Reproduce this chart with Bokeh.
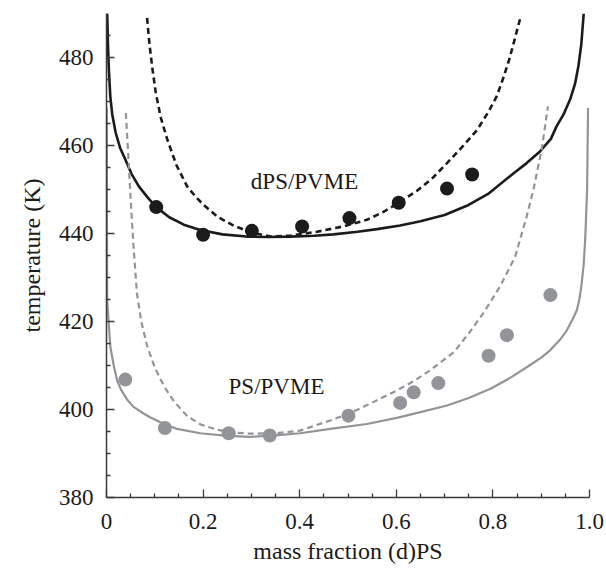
from bokeh.plotting import figure
from bokeh.models import Range1d, FixedTicker, Label
from bokeh.embed import file_html
from bokeh.resources import INLINE

# ---- data ----
# dPS/PVME binodal (solid black)
dps_bin_x = [0.0015, 0.003, 0.005, 0.008, 0.012, 0.019, 0.028, 0.039, 0.052, 0.067, 0.085, 0.103,
             0.13, 0.16, 0.194, 0.24, 0.29, 0.332, 0.38, 0.43, 0.47, 0.52, 0.56, 0.608, 0.65,
             0.70, 0.746, 0.79, 0.843, 0.87, 0.898, 0.92, 0.932, 0.946, 0.96, 0.97, 0.977, 0.983, 0.988]
dps_bin_t = [490, 483, 477, 471, 467, 462.9, 459.5, 456.8, 453.5, 450.7, 448.2, 446.0,
             443.7, 442.0, 440.8, 439.8, 439.3, 439.2, 439.3, 439.5, 439.8, 440.4, 441.0, 441.8, 442.8,
             444.2, 446.3, 449.0, 453.7, 456.0, 458.7, 461.5, 464.4, 467.0, 470.5, 474.0, 478.0, 483.0, 490]
# dPS/PVME spinodal (dashed black)
dps_spi_x = [0.084, 0.089, 0.095, 0.102, 0.112, 0.126, 0.145, 0.167, 0.185, 0.201, 0.23, 0.263, 0.30,
             0.34, 0.38, 0.436, 0.49, 0.539, 0.575, 0.605, 0.643, 0.675, 0.705, 0.735, 0.767, 0.79,
             0.808, 0.822, 0.834, 0.846, 0.857]
dps_spi_t = [489, 483, 477.5, 472, 466.5, 461.3, 455.5, 450.7, 448.3, 446.5, 443.8, 441.8, 440.2,
             439.3, 439.5, 440.4, 441.6, 443.1, 445.0, 447.0, 449.7, 452.6, 456.0, 459.5, 463.5, 467.5,
             471.2, 475.5, 479.6, 484.5, 489.1]
# PS/PVME binodal (solid grey)
ps_bin_x = [0.0005, 0.0008, 0.001, 0.0014, 0.008, 0.015, 0.022, 0.03, 0.043, 0.056, 0.075, 0.091,
            0.121, 0.146, 0.194, 0.25, 0.298, 0.35, 0.401, 0.463, 0.539, 0.601, 0.65, 0.705, 0.75,
            0.795, 0.83, 0.87, 0.90, 0.919, 0.94, 0.953, 0.965, 0.974, 0.979, 0.983, 0.988, 0.991,
            0.993, 0.995, 0.996, 0.997]
ps_bin_t = [468.5, 455, 440, 424.8, 414.2, 410.0, 406.6, 404.5, 402.2, 400.6, 399.2, 398.2,
            396.6, 395.6, 394.6, 394.0, 393.8, 394.1, 394.6, 395.6, 396.7, 398.1, 399.4, 400.9, 402.6,
            404.7, 406.8, 409.6, 411.8, 413.5, 416.0, 418.0, 420.5, 422.6, 425.0, 427.9, 433.0, 438.5,
            444.0, 450.0, 459.0, 468.5]
# PS/PVME spinodal (dashed grey)
ps_spi_x = [0.040, 0.045, 0.050, 0.056, 0.063, 0.072, 0.084, 0.10, 0.119, 0.14, 0.167, 0.195, 0.229,
            0.26, 0.298, 0.35, 0.401, 0.463, 0.505, 0.532, 0.601, 0.637, 0.670, 0.719, 0.75, 0.781,
            0.815, 0.846, 0.870, 0.884, 0.901, 0.914]
ps_spi_t = [467.4, 458.0, 447.7, 437.0, 426.4, 420.0, 414.5, 409.5, 405.3, 401.8, 398.5, 396.6, 395.4,
            394.8, 394.5, 394.6, 395.2, 397.5, 399.2, 400.6, 404.3, 406.5, 408.9, 413.0, 417.3, 422.0,
            428.0, 434.7, 443.9, 450.0, 459.1, 468.9]
# measured points
dps_pts_x = [0.103, 0.20, 0.301, 0.405, 0.503, 0.605, 0.705, 0.757]
dps_pts_t = [446.0, 439.7, 440.6, 441.6, 443.5, 447.0, 450.2, 453.4]
ps_pts_x = [0.039, 0.121, 0.253, 0.338, 0.501, 0.608, 0.636, 0.687, 0.791, 0.829, 0.919]
ps_pts_t = [406.8, 395.8, 394.6, 394.1, 398.6, 401.5, 403.9, 406.0, 412.2, 416.9, 426.0]

x_ticks = [0, 0.2, 0.4, 0.6, 0.8, 1.0]
x_tick_labels = ["0", "0.2", "0.4", "0.6", "0.8", "1.0"]
y_ticks = [380, 400, 420, 440, 460, 480]

FONT = "Liberation Serif"
BLACK = "#1c1a1a"
GREY = "#929497"

p = figure(frame_width=483, frame_height=484, output_backend="svg", toolbar_location=None,
           x_range=Range1d(0, 1.0), y_range=Range1d(380, 490),
           min_border_left=106, min_border_right=16, min_border_top=13, min_border_bottom=70)
p.outline_line_color = None
p.xgrid.visible = False
p.ygrid.visible = False
p.background_fill_color = "white"

p.line(dps_bin_x, dps_bin_t, line_color=BLACK, line_width=2.6)
p.line(dps_spi_x, dps_spi_t, line_color=BLACK, line_width=2.6, line_dash="6 4")
p.line(ps_bin_x, ps_bin_t, line_color=GREY, line_width=2.2)
p.line(ps_spi_x, ps_spi_t, line_color=GREY, line_width=2.2, line_dash="6 4")
p.scatter(dps_pts_x, dps_pts_t, size=14, fill_color=BLACK, line_color=None)
p.scatter(ps_pts_x, ps_pts_t, size=14, fill_color=GREY, line_color=None)

p.add_layout(Label(x=0.41, y=451.9, text="dPS/PVME", text_font=FONT, text_font_size="23px",
                   text_color=BLACK, text_align="center", text_baseline="middle"))
p.add_layout(Label(x=0.352, y=405.2, text="PS/PVME", text_font=FONT, text_font_size="23px",
                   text_color=BLACK, text_align="center", text_baseline="middle"))

xminor = [round(0.05 * i, 2) for i in range(1, 20) if i % 4 != 0]
yminor = [380 + 5 * i for i in range(1, 22) if i % 4 != 0]
p.xaxis.ticker = FixedTicker(ticks=x_ticks, minor_ticks=xminor)
p.yaxis.ticker = FixedTicker(ticks=y_ticks, minor_ticks=yminor)
p.xaxis.major_label_overrides = {t: l for t, l in zip(x_ticks, x_tick_labels)}

for ax in (p.xaxis[0], p.yaxis[0]):
    ax.axis_line_color = "#3a3a3a"
    ax.axis_line_width = 1.5
    ax.major_tick_line_color = "#3a3a3a"
    ax.minor_tick_line_color = "#3a3a3a"
    ax.major_tick_line_width = 1.3
    ax.minor_tick_line_width = 1.3
    ax.major_tick_in = 8
    ax.major_tick_out = 0
    ax.minor_tick_in = 4
    ax.minor_tick_out = 0
    ax.major_label_text_font = FONT
    ax.major_label_text_font_size = "23px"
    ax.major_label_text_color = BLACK
    ax.axis_label_text_font = FONT
    ax.axis_label_text_font_size = "24px"
    ax.axis_label_text_font_style = "normal"
    ax.axis_label_text_color = BLACK

p.xaxis.axis_label = "mass fraction (d)PS"
p.yaxis.axis_label = "temperature (K)"
p.xaxis.major_label_standoff = 16
p.xaxis.axis_label_standoff = 6
p.yaxis.major_label_standoff = 13
p.yaxis.axis_label_standoff = 11

open("out.html", "w").write(file_html(p, INLINE))
